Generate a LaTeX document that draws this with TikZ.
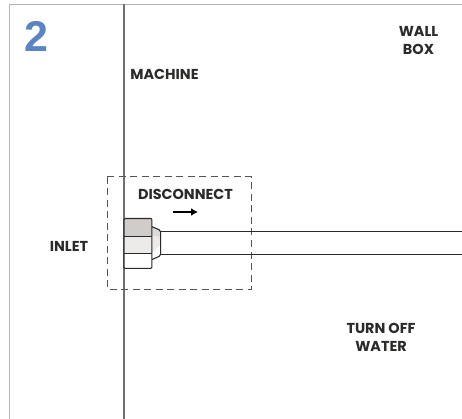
\documentclass[tikz,border=0pt]{standalone}
\usepackage{fontspec}
\setmainfont{Liberation Sans}
\newfontfamily\lblfont{Poppins}
\usetikzlibrary{arrows.meta}
\definecolor{inkc}{HTML}{2B2A29}
\definecolor{framec}{HTML}{B4B4B4}
\definecolor{wallc}{HTML}{6F6F6F}
\definecolor{bluec}{HTML}{5B84C4}
\definecolor{nutA}{HTML}{CFCCC9}
\definecolor{nutB}{HTML}{ECEBE9}
\tikzset{
  x=1pt,y=-1pt,
  lbl/.style={font=\lblfont\bfseries\fontsize{14.4}{18}\selectfont,text=inkc,align=center,inner sep=0pt},
  part/.style={draw=inkc,line width=1.1pt,line join=round},
  dashbox/.style={draw=inkc!80!white,line width=0.9pt,dash pattern=on 7pt off 4.5pt},
  tube/.style={draw=inkc,line width=1pt},
  arrowline/.style={draw=black,line width=2pt,-{Latex[length=7pt,width=8pt]}}
}
\begin{document}
\begin{tikzpicture}
\useasboundingbox (0,0) rectangle (462,419);
\fill[white] (0,0) rectangle (462,419);
\coordinate (ftl) at (9.5,4.5);
\coordinate (ftr) at (462,4.5);
\coordinate (fbl) at (9.5,419);
\coordinate (wt) at (124,4.5);
\coordinate (wb) at (124,419);
\draw[framec,line width=1.1pt] (fbl) -- (ftl) -- (ftr);
\draw[wallc,line width=1.6pt] (wt) -- (wb);
\node[font=\bfseries\fontsize{43}{43}\selectfont,text=bluec,inner sep=0pt] (num) at (36,36) {2};
\node[lbl] (wall) at (418.5,41) {WALL\\BOX};
\node[lbl] (machine) at (164.5,74.5) {MACHINE};
\node[lbl] (disc) at (185.5,194.5) {DISCONNECT};
\node[lbl] (inlet) at (69,246.5) {INLET};
\node[lbl] (water) at (381,337) {TURN OFF\\WATER};
\draw[dashbox] (107.3,176.7) rectangle (251,289.5);
\coordinate (al) at (173,212);
\coordinate (ar) at (198,212);
\draw[arrowline] (al) -- (ar);
\coordinate (t1a) at (160,231.7);
\coordinate (t1b) at (462,231.7);
\coordinate (t2a) at (160,254.4);
\coordinate (t2b) at (462,254.4);
\draw[tube] (t1a) -- (t1b);
\draw[tube] (t2a) -- (t2b);
\fill[nutA!70!white] (152,227) -- (160,231) -- (160,237) -- (152,236) -- cycle;
\fill[nutB] (152,236) -- (160,237) -- (160,245) -- (152,253) -- cycle;
\draw[part] (152,226.7) -- (159,229.7) -- (160.6,231.7) -- (160.6,254.4) -- (159,256.5) -- (152,259.5);
\fill[nutA] (124,218.5) rectangle (151.8,236.5);
\fill[nutB] (124,236.5) rectangle (151.8,253.3);
\fill[white] (124,253.3) rectangle (151.8,268.3);
\draw[part,rounded corners=1pt] (124,218.5) rectangle (151.8,268.3);
\draw[part] (124,236.6) -- (151.8,236.6);
\draw[part] (124,253.3) -- (151.8,253.3);
\end{tikzpicture}
\end{document}
